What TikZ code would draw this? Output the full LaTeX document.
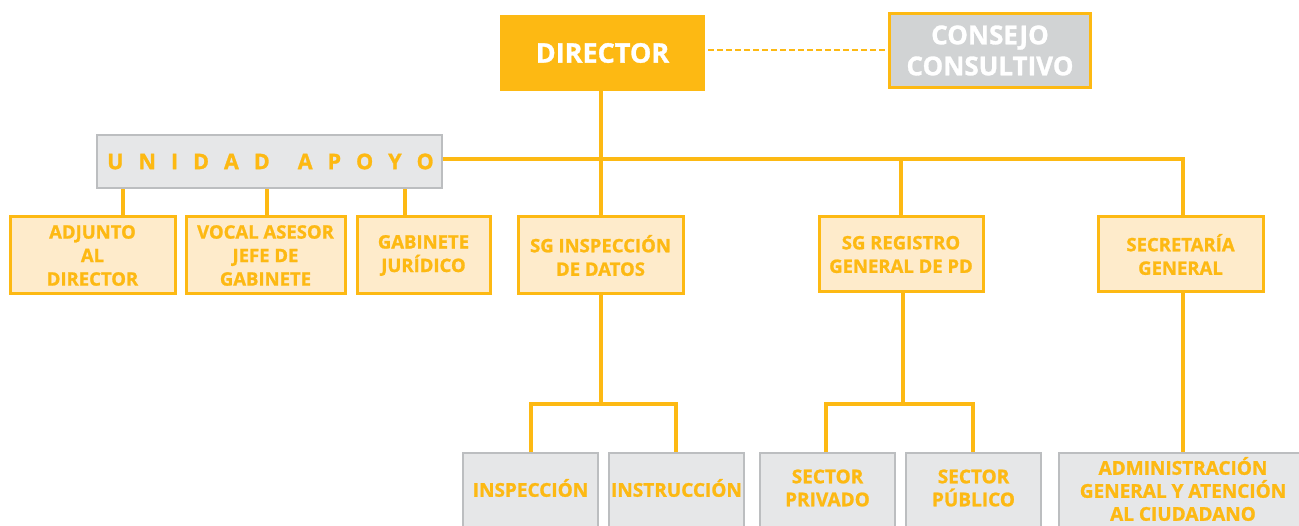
\documentclass[tikz,border=0pt]{standalone}
\usepackage{fontspec}
\setmainfont{Open Sans}[BoldFeatures={FakeBold=1.2}]
\definecolor{org}{HTML}{FDB913}
\definecolor{lorg}{HTML}{FEEBCB}
\definecolor{lgray}{HTML}{E6E7E8}
\definecolor{mgray}{HTML}{D1D3D4}
\definecolor{bgray}{HTML}{BCBEC0}
\newcommand{\ls}{\hspace{15pt}}
\tikzset{
  conn/.style={draw=org, line width=3.2pt},
  lvltwo/.style={draw=org, fill=lorg, line width=3pt, text=org, align=center,
    font=\bfseries\fontsize{18.5}{23.5}\selectfont, inner sep=0pt},
  lvlthree/.style={draw=bgray, fill=lgray, line width=1.4pt, inner sep=0pt},
  lbl/.style={text=org, align=center, font=\bfseries\fontsize{19}{23}\selectfont, inner sep=0pt},
}
\begin{document}
\begin{tikzpicture}[x=1pt,y=1pt]
\useasboundingbox (0,0) rectangle (1299,-526);
\fill[white] (0,0) rectangle (1299,-526);
% top
\node[fill=org, minimum width=205pt, minimum height=76pt, inner sep=0pt, text=white,
  font=\bfseries\fontsize{27}{30}\selectfont] (dir) at (602.5,-53) {DIRECTOR};
\node[fill=mgray, draw=org, line width=2.6pt, minimum width=201pt, minimum height=74pt, inner sep=0pt, text=white, align=center,
  font=\bfseries\fontsize{26}{31}\selectfont] (cons) at (990,-50.5) {CONSEJO\\CONSULTIVO};
\draw[conn, line width=2.8pt, dash pattern=on 6pt off 3pt] ([xshift=3pt]dir.east |- 0,-50) coordinate (d1) -- ([xshift=-3pt]cons.west |- 0,-50) coordinate (d2);
% unidad apoyo
\node[fill=lgray, draw=bgray, line width=1.4pt, minimum width=345pt, minimum height=53pt, inner sep=0pt, text=org,
  font=\bfseries\fontsize{21.5}{24}\selectfont] (ua) at (269.5,-161.5) {\hspace{2pt}U\ls N\ls I\ls D\ls A\ls D\ls\hspace{13pt}A\ls P\ls O\ls Y\ls O};
% level 2
\node[lvltwo, minimum width=165pt, minimum height=77pt] (adj) at (92.5,-255.5) {ADJUNTO\\AL\\DIRECTOR};
\node[lvltwo, minimum width=159pt, minimum height=77pt] (voc) at (265.5,-255.5) {VOCAL ASESOR\\JEFE DE\\GABINETE};
\node[lvltwo, minimum width=133pt, minimum height=77pt] (gab) at (423.5,-255.5) {GABINETE\\JURÍDICO};
\node[lvltwo, minimum width=165pt, minimum height=77pt] (sgi) at (600.5,-255.5) {SG INSPECCIÓN\\DE DATOS};
\node[lvltwo, minimum width=164pt, minimum height=75pt] (sgr) at (901,-254.5) {SG REGISTRO\\GENERAL DE PD};
\node[lvltwo, minimum width=165pt, minimum height=75pt] (sec) at (1180.5,-254.5) {SECRETARÍA\\GENERAL};
% level 3
\node[lvlthree, minimum width=135pt, minimum height=90pt] (ins) at (530.5,-498) {};
\node[lvlthree, minimum width=135pt, minimum height=90pt] (inst) at (676.5,-498) {};
\node[lvlthree, minimum width=135pt, minimum height=90pt] (spr) at (827.5,-498) {};
\node[lvlthree, minimum width=135pt, minimum height=90pt] (spu) at (973.5,-498) {};
\node[lvlthree, minimum width=260pt, minimum height=90pt] (adm) at (1189,-498) {};
\node[lbl] (tins) at (530.5,-488) {INSPECCIÓN};
\node[lbl] (tinst) at (676.5,-488) {INSTRUCCIÓN};
\node[lbl] (tspr) at (827.5,-488) {SECTOR\\PRIVADO};
\node[lbl] (tspu) at (973.5,-488) {SECTOR\\PÚBLICO};
\node[lbl] (tadm) at (1183,-489) {ADMINISTRACIÓN\\GENERAL Y ATENCIÓN\\AL CIUDADANO};
% connectors
\coordinate (dx) at (601,0);
\draw[conn] (dir.south -| dx) -- (sgi.north -| dx);
\coordinate (hR) at (1183,-159);
\draw[conn] (ua.east |- hR) -- (hR) -- (sec.north -| hR);
\draw[conn] (sgr.north |- hR) -- (sgr.north);
\draw[conn] (adj.north -| 123,0) -- (ua.south -| 123,0);
\draw[conn] (voc.north -| 267,0) -- (ua.south -| 267,0);
\draw[conn] (gab.north -| 405,0) -- (ua.south -| 405,0);
\coordinate (b1) at (601,-404);
\draw[conn] (sgi.south -| b1) -- (b1);
\draw[conn] (ins.north -| 531,0) |- (b1) -| (inst.north -| 676,0);
\coordinate (b2) at (903,-404);
\draw[conn] (sgr.south -| b2) -- (b2);
\draw[conn] (spr.north -| 826,0) |- (b2) -| (spu.north -| 973,0);
\draw[conn] (sec.south -| hR) -- (adm.north -| hR);
\end{tikzpicture}
\end{document}
